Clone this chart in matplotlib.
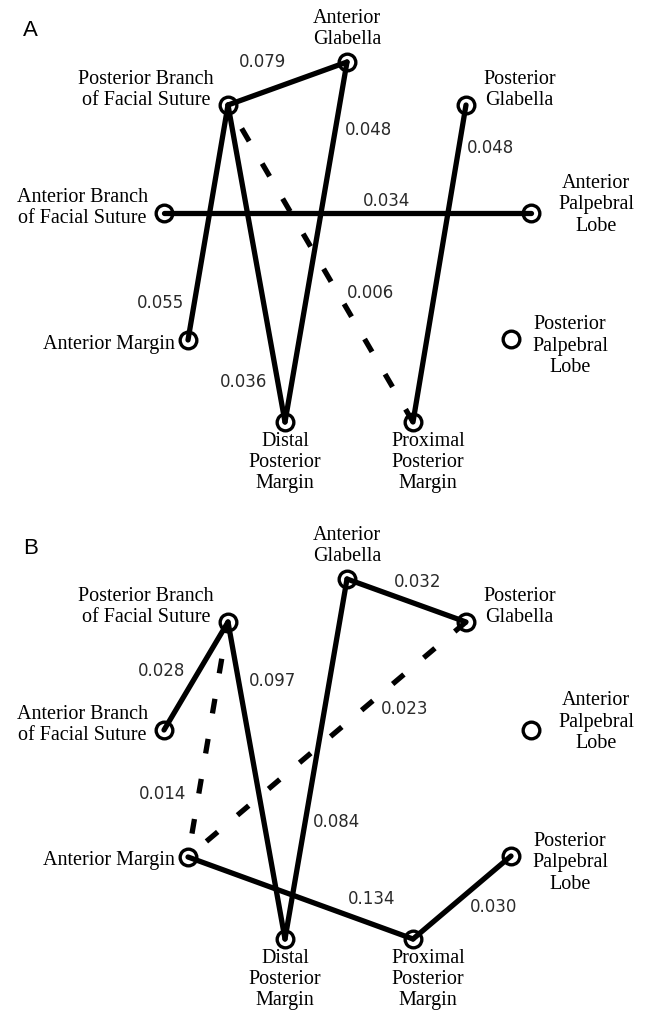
import matplotlib.pyplot as plt

# node layout (pixel coords within a panel, y grows downward)
nodes = ["Anterior Glabella", "Posterior Branch", "Posterior Glabella",
         "Anterior Branch", "Anterior Palpebral", "Anterior Margin",
         "Posterior Palpebral", "Distal PM", "Proximal PM"]
node_x = [347, 228, 466, 164, 531, 188, 511, 285, 413]
node_y = [62, 105, 105, 213, 213, 340, 339, 422, 422]

node_text = ["Anterior\nGlabella", "Posterior Branch\nof Facial Suture",
             "Posterior\nGlabella", "Anterior Branch\nof Facial Suture",
             "Anterior\nPalpebral\nLobe", "Anterior Margin",
             "Posterior\nPalpebral\nLobe", "Distal\nPosterior\nMargin",
             "Proximal\nPosterior\nMargin"]

# panel A edges: (from, to, weight, dashed)
edges_a = [("Posterior Branch", "Anterior Glabella", 0.079, False),
           ("Anterior Glabella", "Distal PM", 0.048, False),
           ("Posterior Glabella", "Proximal PM", 0.048, False),
           ("Anterior Branch", "Anterior Palpebral", 0.034, False),
           ("Posterior Branch", "Anterior Margin", 0.055, False),
           ("Posterior Branch", "Distal PM", 0.036, False),
           ("Proximal PM", "Posterior Branch", 0.006, True)]
label_pos_a = [(262, 62), (368, 130), (491, 148), (387, 201),
               (161, 303), (244, 382), (370, 293)]

# panel B edges
edges_b = [("Anterior Glabella", "Posterior Glabella", 0.032, False),
           ("Posterior Branch", "Anterior Branch", 0.028, False),
           ("Posterior Branch", "Distal PM", 0.097, False),
           ("Posterior Glabella", "Anterior Margin", 0.023, True),
           ("Anterior Margin", "Posterior Branch", 0.014, True),
           ("Anterior Glabella", "Distal PM", 0.084, False),
           ("Anterior Margin", "Proximal PM", 0.134, False),
           ("Proximal PM", "Posterior Palpebral", 0.030, False)]
label_pos_b = [(418, 65), (162, 154), (273, 164), (405, 192),
               (163, 277), (337, 305), (372, 382), (494, 390)]
dash_off_b = [0, 0, 0, 0, 3.2, 0, 0, 0]
dash_off_a = [0] * len(edges_a)

# node label anchors: dx, dy, ha, va
label_anchor = [(0, -13, "center", "bottom"), (-14, -15, "right", "center"),
                (17, -15, "left", "center"), (-16, -5, "right", "center"),
                (27, -8, "left", "center"), (-13, 4, "right", "center"),
                (21, 7, "left", "center"), (0, 10, "center", "top"),
                (15, 10, "center", "top")]

W, H = 648, 1011
fig = plt.figure(figsize=(W / 100, H / 100), dpi=100)
ax = fig.add_axes([0, 0, 1, 1])
ax.set_xlim(0, W)
ax.set_ylim(H, 0)
ax.axis("off")

serif = "Liberation Serif"


def draw_panel(edges, label_pos, offsets, off, letter):
    pos = {n: (x, y + off) for n, x, y in zip(nodes, node_x, node_y)}
    ax.text(23, 31 + off, letter, fontsize=16, family="Liberation Sans",
            ha="left", va="center")
    for (a, b, w, dashed), (lx, ly), do in zip(edges, label_pos, offsets):
        xs = [pos[a][0], pos[b][0]]
        ys = [pos[a][1], pos[b][1]]
        if dashed:
            ax.plot(xs, ys, color="black", lw=3.8, linestyle=(do, (2.8, 4.9)),
                    dash_capstyle="butt", zorder=3)
        else:
            ax.plot(xs, ys, color="black", lw=3.8, solid_capstyle="round", zorder=3)
        ax.text(lx, ly + off, f"{w:.3f}", fontsize=12, family="DejaVu Sans",
                color="#2a2a2a", ha="center", va="center")
    ax.plot([pos[n][0] for n in nodes], [pos[n][1] for n in nodes], "o",
            ms=12, mfc="white", mec="black", mew=2.4, zorder=2)
    for n, txt, (dx, dy, ha, va) in zip(nodes, node_text, label_anchor):
        ax.text(pos[n][0] + dx, pos[n][1] + dy, txt, fontsize=14.5, family=serif,
                ha=ha, va=va, multialignment="center", linespacing=1.15)


draw_panel(edges_a, label_pos_a, dash_off_a, 0, "A")
draw_panel(edges_b, label_pos_b, dash_off_b, 517, "B")

fig.savefig("out.png", dpi=100)
